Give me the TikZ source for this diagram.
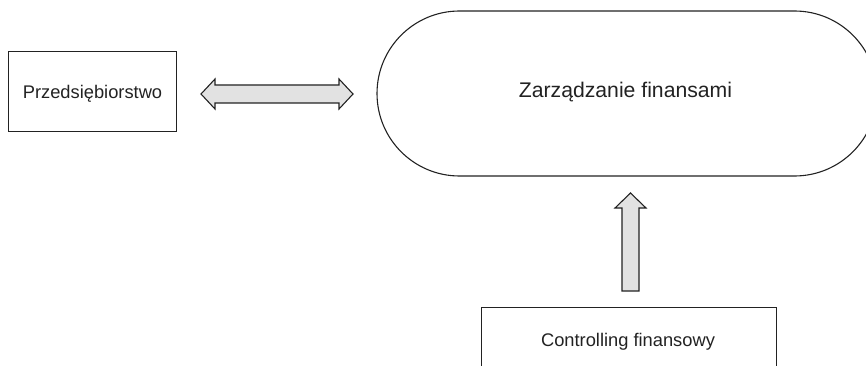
\documentclass[tikz,border=0pt]{standalone}
\usepackage{fontspec}
\setmainfont{Liberation Sans}
\usetikzlibrary{shapes.misc}
\definecolor{linec}{HTML}{222222}
\definecolor{arrowfill}{HTML}{E2E2E2}
\tikzset{
  boxnode/.style={draw=linec, line width=1pt, rectangle, inner sep=0pt},
  stadnode/.style={draw=linec, line width=1.1pt, rounded rectangle, rounded rectangle arc length=180, inner sep=0pt},
  smalltext/.style={font=\fontsize{18.3}{22}\selectfont, text=linec, inner sep=0pt, anchor=base},
  bigtext/.style={font=\fontsize{21.2}{25}\selectfont, text=linec, inner sep=0pt, anchor=base},
  blockarrow/.style={draw=linec, line width=1.1pt, fill=arrowfill, line join=miter}
}
\begin{document}
\begin{tikzpicture}[x=1pt,y=-1pt]
\useasboundingbox (0,0) rectangle (866,366);
% nodes
\node[boxnode, minimum width=168pt, minimum height=80pt] (firm) at (92,92) {};
\node[smalltext] (firmtext) at (92.5,99) {Przedsiębiorstwo};
\node[stadnode, minimum width=500pt, minimum height=165pt] (fin) at (627,93.5) {};
\node[bigtext] (fintext) at (625.5,98) {Zarządzanie finansami};
\node[boxnode, minimum width=295pt, minimum height=110pt] (ctrl) at (628.5,362) {};
\node[smalltext] (ctrltext) at (628,346) {Controlling finansowy};
% double block arrow between firm and fin
\coordinate (da) at (201,94);
\coordinate (db) at (353,94);
\draw[blockarrow] (da) -- ++(14,-15) -- ++(0,6) -- ++(124,0) -- ++(0,-6) -- (db)
  -- ++(-14,15) -- ++(0,-6) -- ++(-124,0) -- ++(0,6) -- cycle;
% up block arrow from ctrl to fin
\coordinate (ua) at (630.5,193);
\draw[blockarrow] (ua) -- ++(15.5,15) -- ++(-7,0) -- ++(0,83) -- ++(-17,0) -- ++(0,-83) -- ++(-7,0) -- cycle;
\end{tikzpicture}
\end{document}
